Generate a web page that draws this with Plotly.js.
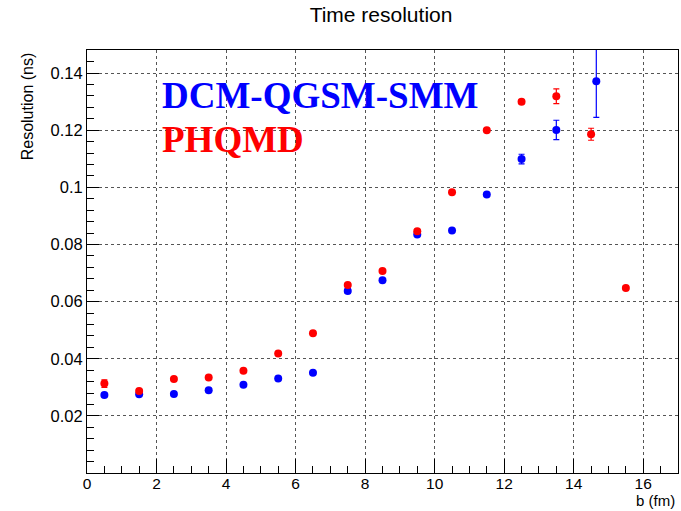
<!DOCTYPE html>
<html>
<head>
<meta charset="utf-8">
<script src="https://cdn.plot.ly/plotly-3.0.1.min.js"></script>
<style>html,body{margin:0;padding:0;background:#fff;}#chart{width:681px;height:511px;}</style>
</head>
<body>
<div id="chart"></div>
<script>
// Impact parameter bins (fm)
const bDCM = [0.5, 1.5, 2.5, 3.5, 4.5, 5.5, 6.5, 7.5, 8.5, 9.5, 10.5, 11.5, 12.5, 13.5, 14.65];
const resDCM = [0.0273, 0.0276, 0.0277, 0.0290, 0.0309, 0.0331, 0.0351, 0.0637, 0.0675, 0.0835, 0.0849, 0.0975, 0.1099, 0.1201, 0.1372];
const errDCM = [0.0006, 0.0005, 0.0004, 0.0004, 0.0004, 0.0004, 0.0005, 0.0008, 0.0005, 0.0005, 0.0005, 0.0006, 0.0017, 0.0034, 0.0127];

const bPHQMD = [0.5, 1.5, 2.5, 3.5, 4.5, 5.5, 6.5, 7.5, 8.5, 9.5, 10.5, 11.5, 12.5, 13.5, 14.5, 15.5];
const resPHQMD = [0.0313, 0.0287, 0.0329, 0.0334, 0.0358, 0.0418, 0.0489, 0.0658, 0.0707, 0.0846, 0.0983, 0.1200, 0.1300, 0.1319, 0.1186, 0.0648];
const errPHQMD = [0.0013, 0.0005, 0.0004, 0.0004, 0.0004, 0.0004, 0.0005, 0.0005, 0.0005, 0.0005, 0.0005, 0.0005, 0.0007, 0.0026, 0.0021, 0.0006];

const yTickVals = [0.02, 0.04, 0.06, 0.08, 0.1, 0.12, 0.14];
const yTickText = ["0.02", "0.04", "0.06", "0.08", "0.1", "0.12", "0.14"];
const xTickVals = [0, 2, 4, 6, 8, 10, 12, 14, 16];

const labelDCM = "DCM-QGSM-SMM";
const labelPHQMD = "PHQMD";
const chartTitle = "Time resolution";
const xTitle = "b (fm)";
const yTitle = "Resolution (ns)";

const font = "Liberation Sans, Arial, Helvetica, sans-serif";

const traces = [
  {
    x: bDCM, y: resDCM, type: 'scatter', mode: 'markers', name: labelDCM,
    marker: {color: '#0000ff', size: 8},
    error_y: {type: 'data', array: errDCM, visible: true, color: '#0000ff', thickness: 1.2, width: 3},
    cliponaxis: true
  },
  {
    x: bPHQMD, y: resPHQMD, type: 'scatter', mode: 'markers', name: labelPHQMD,
    marker: {color: '#ff0000', size: 8},
    error_y: {type: 'data', array: errPHQMD, visible: true, color: '#ff0000', thickness: 1.2, width: 3},
    cliponaxis: true
  }
];

const layout = {
  width: 681, height: 511,
  margin: {l: 87, r: 3, t: 50, b: 38, pad: 0},
  paper_bgcolor: '#fff', plot_bgcolor: '#fff',
  showlegend: false,
  font: {family: font, size: 16, color: '#000'},
  title: {text: chartTitle, x: 0.5595, xanchor: 'center', y: 0.972, yanchor: 'middle', font: {family: font, size: 21, color: '#000'}},
  xaxis: {
    range: [0, 17], tickmode: 'array', tickvals: xTickVals,
    ticks: 'inside', ticklen: 14, tickwidth: 1, tickcolor: '#000',
    minor: {dtick: 0.5, tick0: 0, ticks: 'inside', ticklen: 7, tickcolor: '#000', showgrid: false},
    showgrid: true, gridcolor: '#555', griddash: 'dot', gridwidth: 1,
    showline: true, linecolor: '#000', linewidth: 1, mirror: true,
    zeroline: false, tickfont: {family: font, size: 15.5}, ticklabelstandoff: -4
  },
  yaxis: {
    range: [0, 0.1481], tickmode: 'array', tickvals: yTickVals, ticktext: yTickText,
    ticks: 'inside', ticklen: 12, tickwidth: 1, tickcolor: '#000',
    minor: {dtick: 0.004, tick0: 0, ticks: 'inside', ticklen: 7, tickcolor: '#000', showgrid: false},
    showgrid: true, gridcolor: '#555', griddash: 'dot', gridwidth: 1,
    showline: true, linecolor: '#000', linewidth: 1, mirror: true,
    zeroline: false, tickfont: {family: font, size: 16.5}
  },
  annotations: [
    {text: labelDCM, xref: 'paper', yref: 'paper', x: 0.1230, y: 0.893, xanchor: 'left', yanchor: 'middle', showarrow: false,
     font: {family: 'Liberation Serif, Times New Roman, serif', size: 37, color: '#0000ff', weight: 'bold'}},
    {text: labelPHQMD, xref: 'paper', yref: 'paper', x: 0.1230, y: 0.7877, xanchor: 'left', yanchor: 'middle', showarrow: false,
     font: {family: 'Liberation Serif, Times New Roman, serif', size: 37, color: '#ff0000', weight: 'bold'}},
    {text: xTitle, xref: 'paper', yref: 'paper', x: 0.9988, y: -0.066, xanchor: 'right', yanchor: 'middle', showarrow: false,
     font: {family: font, size: 15, color: '#000'}},
    {text: yTitle, xref: 'paper', yref: 'paper', x: -0.101, y: 1, xanchor: 'center', yanchor: 'top', textangle: -90, showarrow: false,
     font: {family: font, size: 16, color: '#000'}}
  ]
};

Plotly.newPlot('chart', traces, layout, {displayModeBar: false, staticPlot: true});
</script>
</body>
</html>
